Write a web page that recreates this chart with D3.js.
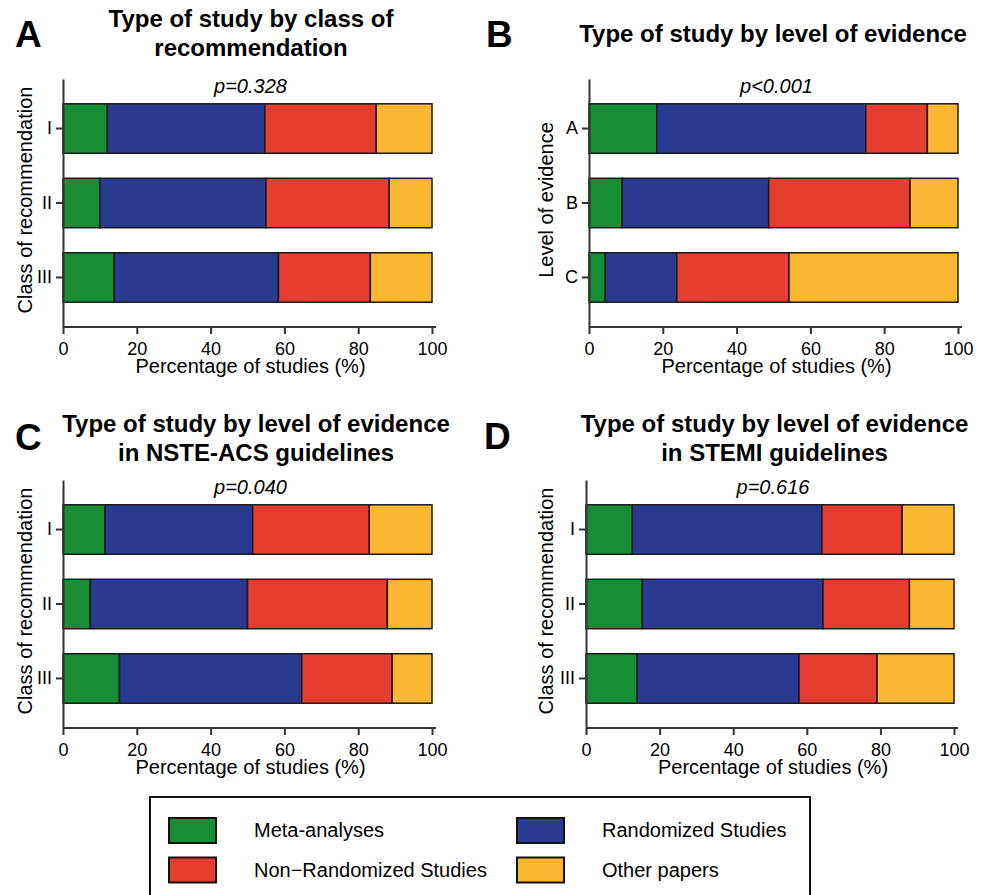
<!DOCTYPE html>
<html>
<head>
<meta charset="utf-8">
<script src="https://cdn.jsdelivr.net/npm/d3@7"></script>
<style>
  body { margin: 0; background: #fff; }
  svg { display: block; }
</style>
</head>
<body>
<script>
// study types, in stacking order
var studyTypes = ["Meta-analyses", "Randomized Studies", "Non\u2212Randomized Studies", "Other papers"];
var typeColors = ["#178e35", "#2b3a91", "#e53d30", "#fbb632"];

var classCats = ["I", "II", "III"];
var levelCats = ["A", "B", "C"];
var xTicks = [0, 20, 40, 60, 80, 100];

// percentages per row: [meta, randomized, non-randomized, other]
var byClass = [[12.0, 42.7, 30.2, 15.1], [10.0, 45.0, 33.4, 11.6], [13.9, 44.5, 24.9, 16.7]];
var byLevel = [[18.4, 56.6, 16.7, 8.3], [9.0, 39.7, 38.3, 13.0], [4.4, 19.4, 30.4, 45.8]];
var nsteByClass = [[11.4, 40.0, 31.6, 17.0], [7.4, 42.6, 37.9, 12.1], [15.3, 49.4, 24.5, 10.8]];
var stemiByClass = [[12.6, 51.5, 21.8, 14.1], [15.3, 49.1, 23.5, 12.1], [13.9, 44.0, 21.2, 20.9]];

var pValues = ["p=0.328", "p<0.001", "p=0.040", "p=0.616"];

var font = "'Liberation Sans', Arial, Helvetica, sans-serif";

var svg = d3.select("body").append("svg")
    .attr("width", 988)
    .attr("height", 895);

var color = d3.scaleOrdinal().domain(studyTypes).range(typeColors);

var panels = [
  {letter: "A", lx: 15, ly: 46.5, title: ["Type of study by class of", "recommendation"], tx: 251, ty: 27,
   yLabel: "Class of recommendation", ylx: 32, cats: classCats, rows: byClass, p: pValues[0],
   left: 63, right: 432, top: 79, bottom: 327},
  {letter: "B", lx: 486, ly: 46.5, title: ["Type of study by level of evidence"], tx: 773, ty: 41.5,
   yLabel: "Level of evidence", ylx: 553, cats: levelCats, rows: byLevel, p: pValues[1],
   left: 589, right: 958, top: 79, bottom: 327},
  {letter: "C", lx: 15, ly: 450, title: ["Type of study by level of evidence", "in NSTE-ACS guidelines"], tx: 256, ty: 432,
   yLabel: "Class of recommendation", ylx: 32, cats: classCats, rows: nsteByClass, p: pValues[2],
   left: 63, right: 432, top: 480, bottom: 728},
  {letter: "D", lx: 484, ly: 448.5, title: ["Type of study by level of evidence", "in STEMI guidelines"], tx: 774.5, ty: 432,
   yLabel: "Class of recommendation", ylx: 553, cats: classCats, rows: stemiByClass, p: pValues[3],
   left: 586, right: 954, top: 480, bottom: 728}
];

panels.forEach(drawPanel);

function drawPanel(p) {
  var x = d3.scaleLinear().domain([0, 100]).range([p.left, p.right]);
  var y = d3.scaleBand().domain(p.cats).range([p.top, p.bottom])
      .paddingInner(0.336).paddingOuter(0.333);

  var table = p.cats.map(function(c, i) {
    var o = {cat: c};
    studyTypes.forEach(function(k, j) { o[k] = p.rows[i][j]; });
    return o;
  });
  var series = d3.stack().keys(studyTypes)(table);

  var g = svg.append("g");

  g.selectAll("g.series")
    .data(series)
    .join("g")
      .attr("class", "series")
      .attr("fill", function(d) { return color(d.key); })
    .selectAll("rect")
    .data(function(d) { return d; })
    .join("rect")
      .attr("x", function(d) { return x(d[0]); })
      .attr("y", function(d) { return y(d.data.cat); })
      .attr("width", function(d) { return x(d[1]) - x(d[0]); })
      .attr("height", y.bandwidth())
      .attr("stroke", "#1a1a1a")
      .attr("stroke-width", 1.5);

  // x axis
  var xa = g.append("g")
      .attr("transform", "translate(0," + p.bottom + ")")
      .call(d3.axisBottom(x).tickValues(xTicks).tickSize(7).tickSizeOuter(0).tickPadding(8))
      .attr("font-size", 18)
      .attr("font-family", font);
  xa.select(".domain").remove();
  xa.append("line")
      .attr("x1", x.range()[0])
      .attr("x2", x.range()[1] + 4)
      .attr("stroke", "#333")
      .attr("stroke-width", 2);
  xa.selectAll(".tick line").attr("stroke", "#333").attr("stroke-width", 2);
  xa.selectAll(".tick text").attr("fill", "#000");

  // y axis
  var ya = g.append("g")
      .attr("transform", "translate(" + p.left + ",0)")
      .call(d3.axisLeft(y).tickSize(7).tickSizeOuter(0).tickPadding(4))
      .attr("font-size", 18)
      .attr("font-family", font);
  ya.select(".domain").attr("stroke", "#333").attr("stroke-width", 2);
  ya.selectAll(".tick line").attr("stroke", "#333").attr("stroke-width", 2);
  ya.selectAll(".tick text").attr("fill", "#000");

  var mid = (p.left + p.right) / 2 + 3;

  g.append("text")
      .attr("x", mid)
      .attr("y", p.bottom + 46)
      .attr("text-anchor", "middle")
      .attr("font-family", font)
      .attr("font-size", 20)
      .text("Percentage of studies (%)");

  g.append("text")
      .attr("transform", "translate(" + p.ylx + "," + ((p.top + p.bottom) / 2 - 3) + ") rotate(-90)")
      .attr("text-anchor", "middle")
      .attr("font-family", font)
      .attr("font-size", 20)
      .text(p.yLabel);

  g.append("text")
      .attr("x", mid)
      .attr("y", p.top + 13.5)
      .attr("text-anchor", "middle")
      .attr("font-family", font)
      .attr("font-size", 20)
      .attr("font-style", "italic")
      .text(p.p);

  var t = g.append("text")
      .attr("text-anchor", "middle")
      .attr("font-family", font)
      .attr("font-size", 24)
      .attr("font-weight", "bold");
  p.title.forEach(function(line, i) {
    t.append("tspan").attr("x", p.tx).attr("y", p.ty + i * 29).text(line);
  });

  g.append("text")
      .attr("x", p.lx)
      .attr("y", p.ly)
      .attr("font-family", font)
      .attr("font-size", 37)
      .attr("font-weight", "bold")
      .text(p.letter);
}

// legend
var legend = svg.append("g").attr("font-family", font).attr("font-size", 20);
legend.append("rect")
    .attr("x", 150).attr("y", 797)
    .attr("width", 660).attr("height", 130)
    .attr("fill", "none")
    .attr("stroke", "#111")
    .attr("stroke-width", 2);

var legendPos = [[169, 818], [517, 818], [169, 857.5], [517, 857.5]];
var item = legend.selectAll("g.item")
    .data(studyTypes)
    .join("g")
      .attr("class", "item")
      .attr("transform", function(d, i) { return "translate(" + legendPos[i][0] + "," + legendPos[i][1] + ")"; });
item.append("rect")
    .attr("width", 47).attr("height", 25)
    .attr("fill", function(d) { return color(d); })
    .attr("stroke", "#111")
    .attr("stroke-width", 2);
item.append("text")
    .attr("x", 85)
    .attr("y", 19)
    .text(function(d) { return d; });
</script>
</body>
</html>
